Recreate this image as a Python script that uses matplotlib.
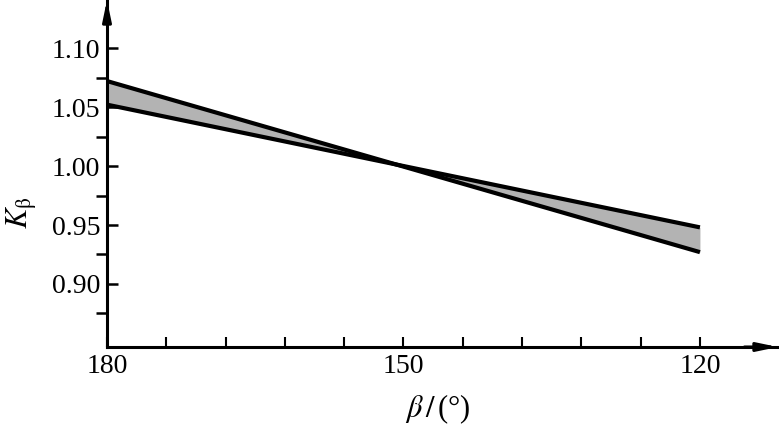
import matplotlib.pyplot as plt

# Datos
beta = [180, 120]
k_pronunciada = [1.072, 0.927]
k_suave = [1.052, 0.948]

x_ticks = [180, 174, 168, 162, 156, 150, 144, 138, 132, 126, 120]
x_labels = ['180', '', '', '', '', '150', '', '', '', '', '120']
y_major = [0.90, 0.95, 1.00, 1.05, 1.10]
y_minor = [0.875, 0.925, 0.975, 1.025, 1.075]

plt.rcParams['font.family'] = ['Liberation Serif', 'DejaVu Serif']
plt.rcParams['mathtext.fontset'] = 'stix'

fig = plt.figure(figsize=(7.79, 4.25), dpi=100)
ax = fig.add_axes([107 / 779, 78 / 425, 671 / 779, 347 / 425])

# Banda gris entre las dos rectas
ax.fill_between(beta, k_pronunciada, k_suave, color='#b3b3b3', lw=0)
ax.plot(beta, k_pronunciada, color='black', lw=3, solid_capstyle='butt')
ax.plot(beta, k_suave, color='black', lw=3, solid_capstyle='butt')

ax.set_xlim(180, 112.1)
ax.set_ylim(0.8466, 1.1407)

ax.spines['top'].set_visible(False)
ax.spines['right'].set_visible(False)
ax.spines['left'].set_linewidth(2.2)
ax.spines['bottom'].set_linewidth(2.2)

ax.set_xticks(x_ticks)
ax.set_xticklabels(x_labels)
ax.set_yticks(y_major)
ax.set_yticklabels(['%.2f' % v for v in y_major])
ax.set_yticks(y_minor, minor=True)
ax.tick_params(axis='both', direction='in', width=1.5, labelsize=20)
ax.tick_params(axis='x', length=7, pad=5)
ax.tick_params(axis='y', which='both', length=8, width=1.8, pad=5)

# Flechas de los ejes
ax.annotate('', xy=(1.0, 0), xytext=(0.95, 0), xycoords='axes fraction',
            arrowprops=dict(arrowstyle='-|>,head_length=1.2,head_width=0.25',
                            color='black', lw=2.2, shrinkA=0, shrinkB=0))
ax.annotate('', xy=(0, 1.0), xytext=(0, 0.93), xycoords='axes fraction',
            arrowprops=dict(arrowstyle='-|>,head_length=1.2,head_width=0.25',
                            color='black', lw=2.2, shrinkA=0, shrinkB=0))

fig.text(438 / 779, 1 - 409 / 425, r'$\beta\,/\,$(°)', fontsize=22,
         ha='center', va='center')
fig.text(22 / 779, 1 - 213 / 425, r'$K_{\mathrm{\beta}}$', fontsize=22,
         ha='center', va='center', rotation=90)

fig.savefig('out.png', dpi=100)
